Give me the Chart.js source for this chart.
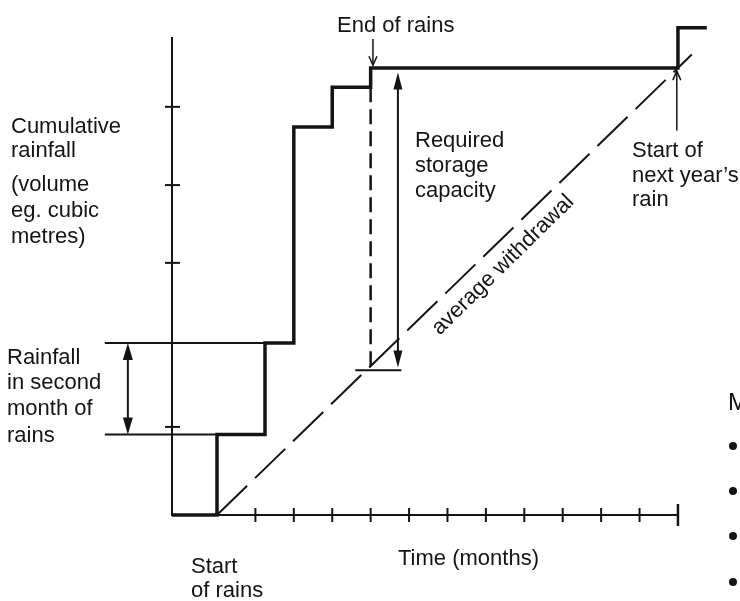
<!DOCTYPE html>
<html>
<head>
<meta charset="utf-8">
<script src="https://cdn.jsdelivr.net/npm/chart.js@4.4.1/dist/chart.umd.min.js"></script>
<style>
  html, body { margin: 0; padding: 0; background: #fff; }
  #wrap { width: 740px; height: 601px; }
</style>
</head>
<body>
<div id="wrap"><canvas id="chart" width="740" height="601"></canvas></div>
<script>
// months since the start of the rains, cumulative volume (arbitrary units, 100 = yearly total)
const rainMonth = [-1.17, 0, 1.25, 2, 3, 4, 12, 12.75];
const cumulativeRain = [0, 18, 38.5, 86.8, 95.7, 100, 109, 109];

const withdrawalMonth = [0, 12.36];
const withdrawalVolume = [0, 103];

const monthTicks = [1, 2, 3, 4, 5, 6, 7, 8, 9, 10, 11];
const endMonth = 12;
const volumeTicks = [19.7, 56.4, 73.8, 91.3];

// storage marker at end of rains
const storageMonth = [4, 4];
const storageVolume = [95.7, 32];
const storageBaseMonth = [3.6, 4.8];
const storageBaseVolume = [32.4, 32.4];
const storageArrowMonth = 4.71;
const storageArrowVolume = [99, 33];

// second month rainfall marker
const secondMonthGuideMonth = [-2.92, 1.25];
const secondMonthTop = [38.5, 38.5];
const secondMonthGuide2Month = [-2.92, 0];
const secondMonthBottom = [18, 18];
const secondMonthArrowMonth = -2.32;

// pointer arrows
const endRainsArrow = { month: 4.06, from: 106.5, to: 100.6 };
const nextYearArrow = { month: 11.97, from: 86, to: 99.3 };

const ink = '#141414';
const font = '22px "Liberation Sans", Arial, Helvetica, sans-serif';

const labels = [
  { text: 'End of rains', x: 337, y: 32 },
  { text: 'Cumulative', x: 11, y: 133 },
  { text: 'rainfall', x: 11, y: 157 },
  { text: '(volume', x: 11, y: 191 },
  { text: 'eg. cubic', x: 11, y: 217 },
  { text: 'metres)', x: 11, y: 243 },
  { text: 'Rainfall', x: 7, y: 364 },
  { text: 'in second', x: 7, y: 389 },
  { text: 'month of', x: 7, y: 415 },
  { text: 'rains', x: 7, y: 442 },
  { text: 'Required', x: 415, y: 147 },
  { text: 'storage', x: 415, y: 172 },
  { text: 'capacity', x: 415, y: 197 },
  { text: 'Start of', x: 632, y: 157 },
  { text: 'next year\u2019s', x: 632, y: 182 },
  { text: 'rain', x: 632, y: 206 },
  { text: 'Start', x: 191, y: 573 },
  { text: 'of rains', x: 191, y: 597 },
  { text: 'Time (months)', x: 398, y: 565 }
];

function toPoints(xs, ys) {
  return xs.map((x, i) => ({ x: x, y: ys[i] }));
}

function arrowHead(ctx, x, y, dir, len, half, filled) {
  // dir: +1 points down, -1 points up
  ctx.beginPath();
  ctx.moveTo(x - half, y - dir * len);
  ctx.lineTo(x, y);
  ctx.lineTo(x + half, y - dir * len);
  if (filled) {
    ctx.closePath();
    ctx.fill();
  } else {
    ctx.stroke();
  }
}

const diagramPlugin = {
  id: 'diagram',
  afterDraw(chart) {
    const ctx = chart.ctx;
    const xs = chart.scales.x;
    const ys = chart.scales.y;
    const px = v => xs.getPixelForValue(v);
    const py = v => ys.getPixelForValue(v);
    ctx.save();
    ctx.strokeStyle = ink;
    ctx.fillStyle = ink;
    ctx.lineCap = 'butt';

    // tick marks crossing the axes
    ctx.lineWidth = 2;
    const y0 = py(0);
    monthTicks.forEach(m => {
      ctx.beginPath();
      ctx.moveTo(px(m), y0 - 7);
      ctx.lineTo(px(m), y0 + 7);
      ctx.stroke();
    });
    ctx.lineWidth = 2.5;
    ctx.beginPath();
    ctx.moveTo(px(endMonth), y0 - 11);
    ctx.lineTo(px(endMonth), y0 + 11);
    ctx.stroke();
    ctx.lineWidth = 2;
    const x0 = xs.left;
    volumeTicks.forEach(v => {
      ctx.beginPath();
      ctx.moveTo(x0 - 7, py(v));
      ctx.lineTo(x0 + 8, py(v));
      ctx.stroke();
    });

    // double arrow: rainfall in second month
    ctx.lineWidth = 2;
    let ax = px(secondMonthArrowMonth);
    ctx.beginPath();
    ctx.moveTo(ax, py(secondMonthTop[0]) + 10);
    ctx.lineTo(ax, py(secondMonthBottom[0]) - 10);
    ctx.stroke();
    arrowHead(ctx, ax, py(secondMonthTop[0]), -1, 17, 5, true);
    arrowHead(ctx, ax, py(secondMonthBottom[0]), 1, 17, 5, true);

    // double arrow: required storage capacity
    ax = px(storageArrowMonth);
    ctx.beginPath();
    ctx.moveTo(ax, py(storageArrowVolume[0]) + 10);
    ctx.lineTo(ax, py(storageArrowVolume[1]) - 10);
    ctx.stroke();
    arrowHead(ctx, ax, py(storageArrowVolume[0]), -1, 17, 4.5, true);
    arrowHead(ctx, ax, py(storageArrowVolume[1]), 1, 17, 4.5, true);

    // thin pointer arrows
    ctx.lineWidth = 1.5;
    [endRainsArrow, nextYearArrow].forEach(a => {
      const x = px(a.month);
      const dir = a.to < a.from ? 1 : -1;
      ctx.beginPath();
      ctx.moveTo(x, py(a.from));
      ctx.lineTo(x, py(a.to));
      ctx.stroke();
      arrowHead(ctx, x, py(a.to), dir, 9, 4, false);
    });

    // text
    ctx.font = font;
    ctx.textBaseline = 'alphabetic';
    ctx.textAlign = 'left';
    labels.forEach(l => ctx.fillText(l.text, l.x, l.y));

    ctx.save();
    ctx.translate(503, 265);
    ctx.rotate(-44.5 * Math.PI / 180);
    ctx.textAlign = 'center';
    ctx.textBaseline = 'middle';
    ctx.fillText('average withdrawal', 0, 0);
    ctx.restore();

    // edge of the next page column
    ctx.font = '24px "Liberation Sans", Arial, sans-serif';
    ctx.fillText('M', 728, 410);
    [446, 491, 536, 582].forEach(y => {
      ctx.beginPath();
      ctx.arc(733, y, 4, 0, Math.PI * 2);
      ctx.fill();
    });
    ctx.restore();
  }
};

const lineBase = {
  pointRadius: 0,
  fill: false,
  clip: false,
  borderColor: ink,
  tension: 0
};

new Chart(document.getElementById('chart'), {
  type: 'line',
  data: {
    datasets: [
      Object.assign({}, lineBase, {
        label: 'Cumulative rainfall',
        data: toPoints(rainMonth, cumulativeRain),
        stepped: 'before',
        borderWidth: 3.5,
        borderJoinStyle: 'miter'
      }),
      Object.assign({}, lineBase, {
        label: 'average withdrawal',
        data: toPoints(withdrawalMonth, withdrawalVolume),
        borderWidth: 2,
        borderDash: [42, 11]
      }),
      Object.assign({}, lineBase, {
        label: 'storage',
        data: toPoints(storageMonth, storageVolume),
        borderWidth: 2.5,
        borderDash: [15, 7]
      }),
      Object.assign({}, lineBase, {
        label: 'storage base',
        data: toPoints(storageBaseMonth, storageBaseVolume),
        borderWidth: 2
      }),
      Object.assign({}, lineBase, {
        label: 'second month top',
        data: toPoints(secondMonthGuideMonth, secondMonthTop),
        borderWidth: 2
      }),
      Object.assign({}, lineBase, {
        label: 'second month bottom',
        data: toPoints(secondMonthGuide2Month, secondMonthBottom),
        borderWidth: 2
      })
    ]
  },
  options: {
    responsive: false,
    animation: false,
    devicePixelRatio: 1,
    layout: { padding: { left: 172, right: 62, top: 38, bottom: 86 } },
    plugins: {
      legend: { display: false },
      tooltip: { enabled: false }
    },
    scales: {
      x: {
        type: 'linear',
        min: -1.171,
        max: 12.001,
        grid: { display: false, drawTicks: false },
        ticks: { display: false },
        border: { display: true, color: ink, width: 2 }
      },
      y: {
        type: 'linear',
        min: 0,
        max: 106.7,
        grid: { display: false, drawTicks: false },
        ticks: { display: false },
        border: { display: true, color: ink, width: 2 }
      }
    }
  },
  plugins: [diagramPlugin]
});
</script>
</body>
</html>
